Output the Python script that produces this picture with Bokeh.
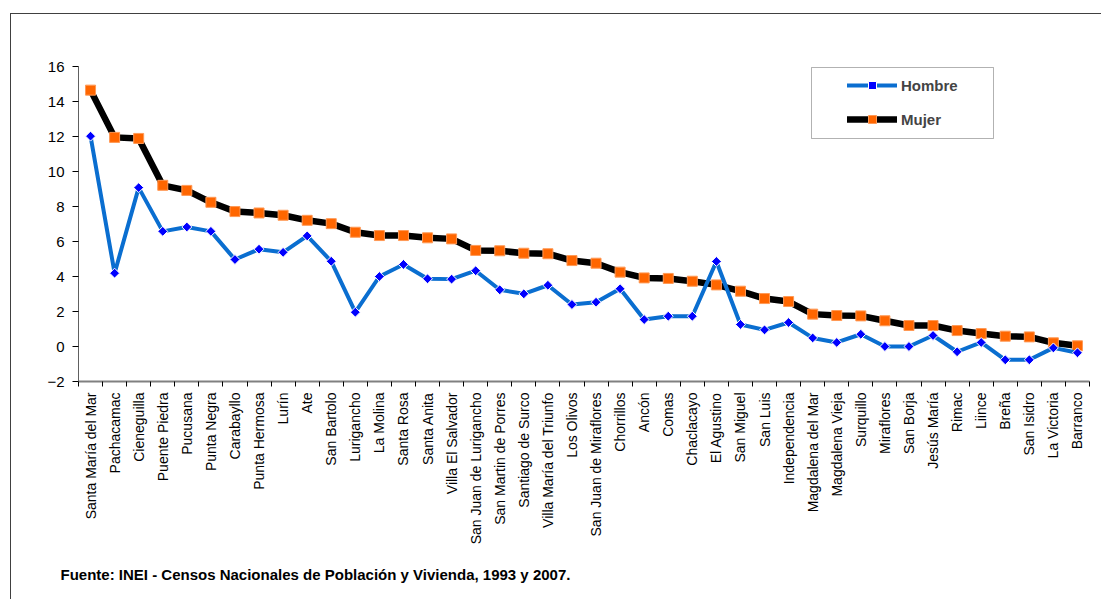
import math
from bokeh.plotting import figure
from bokeh.models import (Range1d, FixedTicker, Legend, LegendItem, BoxAnnotation,
                          Title, InlineStyleSheet)
from bokeh.embed import file_html
from bokeh.resources import INLINE

districts = [
    "Santa María del Mar", "Pachacamac", "Cieneguilla", "Puente Piedra", "Pucusana",
    "Punta Negra", "Carabayllo", "Punta Hermosa", "Lurín", "Ate", "San Bartolo",
    "Lurigancho", "La Molina", "Santa Rosa", "Santa Anita", "Villa El Salvador",
    "San Juan de Lurigancho", "San Martin de Porres", "Santiago de Surco",
    "Villa María del Triunfo", "Los Olivos", "San Juan de Miraflores", "Chorrillos",
    "Ancón", "Comas", "Chaclacayo", "El Agustino", "San Miguel", "San Luis",
    "Independencia", "Magdalena del Mar", "Magdalena Vieja", "Surquillo", "Miraflores",
    "San Borja", "Jesús María", "Rimac", "Liince", "Breña", "San Isidro",
    "La Victoria", "Barranco",
]
hombre = [
    12.02, 4.19, 9.08, 6.58, 6.83, 6.58, 4.97, 5.56, 5.38, 6.32, 4.87,
    1.96, 4.0, 4.69, 3.87, 3.85, 4.33, 3.24, 3.01, 3.5, 2.4, 2.53, 3.3,
    1.54, 1.73, 1.73, 4.86, 1.26, 0.95, 1.37, 0.49, 0.23, 0.70, 0.0,
    0.0, 0.63, -0.30, 0.23, -0.76, -0.76, -0.08, -0.36,
]
mujer = [
    14.65, 11.95, 11.89, 9.21, 8.92, 8.24, 7.71, 7.63, 7.5, 7.21, 7.02,
    6.53, 6.34, 6.34, 6.21, 6.15, 5.49, 5.47, 5.33, 5.3, 4.91, 4.76, 4.25,
    3.92, 3.89, 3.73, 3.52, 3.16, 2.74, 2.57, 1.85, 1.77, 1.75, 1.47,
    1.20, 1.20, 0.91, 0.74, 0.59, 0.55, 0.21, 0.04,
]
y_ticks = [-2, 0, 2, 4, 6, 8, 10, 12, 14, 16]
source_note = "Fuente: INEI - Censos Nacionales de Población y Vivienda, 1993 y 2007."

FONT = "Liberation Sans"

n = len(districts)
x = [i + 0.5 for i in range(n)]

p = figure(width=1100, height=599, output_backend="svg", toolbar_location=None,
           x_range=Range1d(0, n), y_range=Range1d(y_ticks[0], y_ticks[-1]),
           min_border_left=78, min_border_right=11, min_border_top=66,
           min_border_bottom=218)
p.outline_line_color = None
p.xgrid.visible = False
p.ygrid.visible = False
p.background_fill_color = "white"
p.border_fill_color = "white"

# outer frame (left and top edges only are visible in the source)
p.stylesheets = [InlineStyleSheet(css="""
:host { position: relative; }
:host::after { content: ""; position: absolute; left: 10px; top: 13px;
  width: 1090px; height: 586px; border-left: 1px solid #404040;
  border-top: 1px solid #404040; pointer-events: none; }
""")]

# x axis
xa = p.xaxis[0]
xa.ticker = FixedTicker(ticks=x, minor_ticks=list(range(n + 1)))
xa.major_label_overrides = {xi: name for xi, name in zip(x, districts)}
xa.major_label_orientation = math.pi / 2
xa.major_tick_out = 0
xa.major_tick_in = 0
xa.minor_tick_out = 5
xa.minor_tick_in = 0
xa.minor_tick_line_color = "black"
xa.axis_line_color = "#808080"
xa.axis_line_width = 2
xa.major_label_standoff = 6
xa.major_label_text_font = FONT
xa.major_label_text_font_size = "14px"
xa.major_label_text_color = "black"

# y axis
ya = p.yaxis[0]
ya.ticker = FixedTicker(ticks=y_ticks)
ya.minor_tick_line_color = None
ya.major_tick_out = 6
ya.major_tick_in = 0
ya.major_tick_line_color = "black"
ya.axis_line_color = "#606060"
ya.axis_line_width = 1
ya.major_label_standoff = 8
ya.major_label_text_font = FONT
ya.major_label_text_font_size = "15px"
ya.major_label_text_color = "black"

# series
ml = p.line(x, mujer, line_color="black", line_width=6.5, line_join="round", line_cap="round")
ms = p.scatter(x, mujer, marker="square", size=10, fill_color="#FF6600",
               line_color="#FF9955", line_width=1)
hl = p.line(x, hombre, line_color="#0A6ED0", line_width=4, line_join="round", line_cap="round")
hs = p.scatter(x, hombre, marker="square", size=7, angle=math.pi / 4,
               fill_color="#0000FF", line_color="white", line_width=1)

legend = Legend(items=[LegendItem(label="Hombre", renderers=[hl, hs]),
                       LegendItem(label="Mujer", renderers=[ml, ms])],
                location=(769, 252), border_line_color=None, background_fill_alpha=0,
                padding=0, margin=0, spacing=14, glyph_width=50, glyph_height=20,
                label_standoff=4, label_text_font=FONT, label_text_font_size="15px",
                label_text_font_style="bold", label_height=20)
p.add_layout(legend)

legend_box = BoxAnnotation(left=811, right=993, top=67, bottom=138,
                           left_units="canvas", right_units="canvas",
                           top_units="canvas", bottom_units="canvas",
                           fill_alpha=0, line_color="black", line_width=1)
p.add_layout(legend_box)

note = Title(text=source_note, align="left", offset=-18, standoff=33,
             text_font=FONT, text_font_size="15px", text_font_style="bold",
             text_color="black")
p.add_layout(note, "below")

open("out.html", "w").write(file_html(p, INLINE))
